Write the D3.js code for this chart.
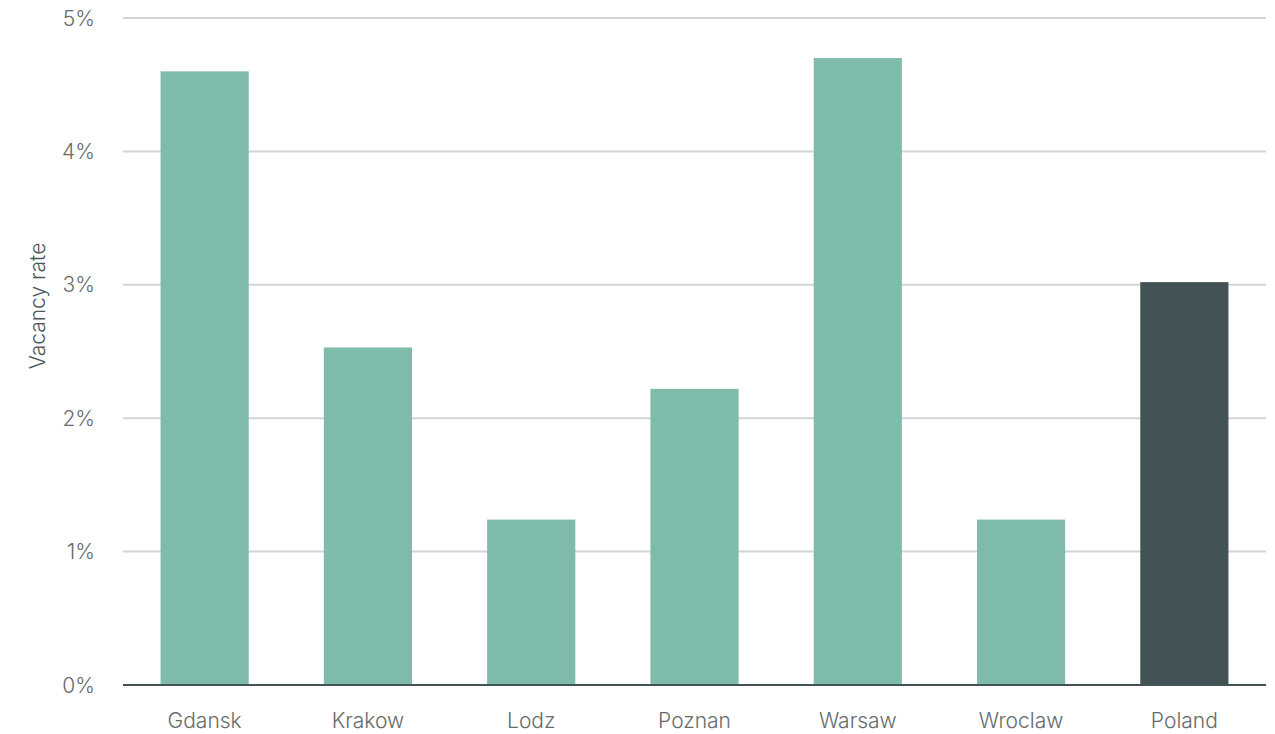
<!DOCTYPE html>
<html>
<head>
<meta charset="utf-8">
<script src="https://cdn.jsdelivr.net/npm/d3@7/dist/d3.min.js"></script>
<style>
  html, body { margin: 0; padding: 0; background: #ffffff; }
  svg { display: block; font-family: "Inter", "Roboto", sans-serif; }
</style>
</head>
<body>
<svg id="chart" width="1275" height="734"></svg>
<script>
// Office vacancy rate by city
const cities = ["Gdansk", "Krakow", "Lodz", "Poznan", "Warsaw", "Wroclaw", "Poland"];
const vacancyRate = [4.6, 2.53, 1.24, 2.22, 4.7, 1.24, 3.02];
const yTicks = [0, 1, 2, 3, 4, 5];
const yTitle = "Vacancy rate";
const highlight = "Poland";

const svg = d3.select("#chart");
const plotLeft = 123, plotRight = 1266, plotTop = 18, plotBottom = 685;

const x = d3.scaleBand()
  .domain(cities)
  .range([plotLeft, plotRight])
  .paddingInner(0.46)
  .paddingOuter(0.23);

const y = d3.scaleLinear()
  .domain([0, 5])
  .range([plotBottom, plotTop]);

// Horizontal gridlines
svg.append("g")
  .selectAll("line")
  .data(yTicks.filter(d => d > 0))
  .join("line")
  .attr("x1", plotLeft)
  .attr("x2", plotRight)
  .attr("y1", d => y(d))
  .attr("y2", d => y(d))
  .attr("stroke", "#cfd5d5")
  .attr("stroke-width", 2);

// Y tick labels
svg.append("g")
  .selectAll("text")
  .data(yTicks)
  .join("text")
  .attr("x", 95)
  .attr("y", d => y(d))
  .attr("dy", "0.36em")
  .attr("text-anchor", "end")
  .attr("font-size", 21)
  .attr("font-weight", 300)
  .attr("fill", "#666b6b")
  .text(d => d + "%");

// Bars
svg.append("g")
  .selectAll("rect")
  .data(cities.map((c, i) => ({ city: c, value: vacancyRate[i] })))
  .join("rect")
  .attr("x", d => x(d.city))
  .attr("width", x.bandwidth())
  .attr("y", d => y(d.value))
  .attr("height", d => y(0) - y(d.value))
  .attr("fill", d => d.city === highlight ? "#435254" : "#7fbbab");

// Baseline
svg.append("line")
  .attr("x1", plotLeft)
  .attr("x2", plotRight)
  .attr("y1", y(0))
  .attr("y2", y(0))
  .attr("stroke", "#435254")
  .attr("stroke-width", 2);

// X category labels
svg.append("g")
  .selectAll("text")
  .data(cities)
  .join("text")
  .attr("x", d => x(d) + x.bandwidth() / 2)
  .attr("y", 728)
  .attr("text-anchor", "middle")
  .attr("font-size", 21)
  .attr("font-weight", 300)
  .attr("fill", "#666b6b")
  .text(d => d);

// Y axis title
svg.append("text")
  .attr("transform", "translate(45,306) rotate(-90)")
  .attr("text-anchor", "middle")
  .attr("font-size", 21)
  .attr("font-weight", 300)
  .attr("fill", "#4a5556")
  .text(yTitle);
</script>
</body>
</html>
